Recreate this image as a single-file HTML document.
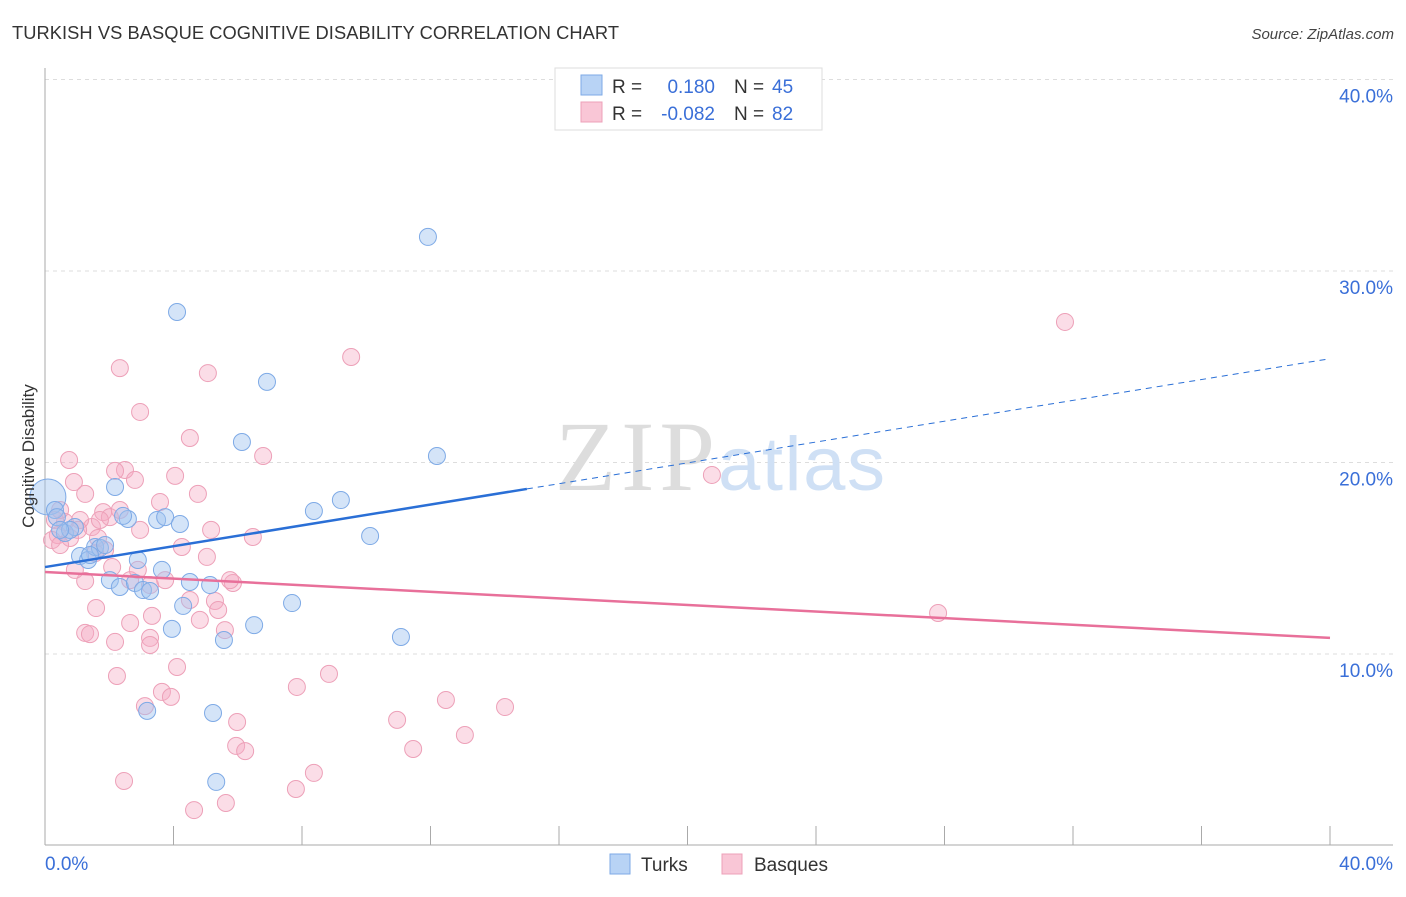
<!DOCTYPE html>
<html><head><meta charset="utf-8"><style>
body{margin:0;background:#fff;}
svg text{font-family:"Liberation Sans",sans-serif;}
</style></head><body>
<svg id="chart" width="1406" height="892" viewBox="0 0 1406 892" xmlns="http://www.w3.org/2000/svg">
<text x="12" y="39" font-size="18.3" fill="#333" textLength="607">TURKISH VS BASQUE COGNITIVE DISABILITY CORRELATION CHART</text>
<text x="1394" y="39" font-size="15" fill="#444" text-anchor="end" font-style="italic">Source: ZipAtlas.com</text>
<g id="grid"></g>
<g>
<text x="555" y="490" font-size="100" fill="#ddd" style="font-family:'Liberation Serif',serif" textLength="160">ZIP</text>
<text x="718" y="490" font-size="76" fill="#cfe0f5" textLength="167">atlas</text>
</g>
<g id="axes"></g>
<g id="pts"></g>
<g id="trends"></g>
<text transform="translate(34,456) rotate(-90)" font-size="17" fill="#333" text-anchor="middle">Cognitive Disability</text>
<g>
<rect x="555" y="68" width="267" height="62" fill="#fff" stroke="#ddd"/>
<rect x="581" y="75" width="21" height="20" fill="#b8d3f5" stroke="#7eaae6"/>
<rect x="581" y="102" width="21" height="20" fill="#f9c6d6" stroke="#eda0b8"/>
<text x="612" y="93" font-size="19" fill="#333">R =</text>
<text x="715" y="93" font-size="19" fill="#3a6fd8" text-anchor="end">0.180</text>
<text x="734" y="93" font-size="19" fill="#333">N =</text>
<text x="772" y="93" font-size="19" fill="#3a6fd8">45</text>
<text x="612" y="120" font-size="19" fill="#333">R =</text>
<text x="715" y="120" font-size="19" fill="#3a6fd8" text-anchor="end">-0.082</text>
<text x="734" y="120" font-size="19" fill="#333">N =</text>
<text x="772" y="120" font-size="19" fill="#3a6fd8">82</text>
</g>
<g>
<rect x="610" y="854" width="20" height="20" fill="#b8d3f5" stroke="#7eaae6"/>
<text x="641" y="871" font-size="19" fill="#333">Turks</text>
<rect x="722" y="854" width="20" height="20" fill="#f9c6d6" stroke="#eda0b8"/>
<text x="754" y="871" font-size="19" fill="#333">Basques</text>
</g>
</svg>
<script>
const yTicks=[10,20,30,40];
const yTickLabels=["10.0%","20.0%","30.0%","40.0%"];
const xTicks=[4,8,12,16,20,24,28,32,36,40];
const turksX=[11.92,4.11,6.91,6.13,12.20,2.18,9.21,8.37,10.12,0.09,0.31,0.37,0.62,0.93,1.09,1.34,1.56,1.71,2.02,2.33,2.58,2.43,2.89,2.80,3.05,3.27,3.49,3.74,4.20,3.64,4.51,5.14,4.30,3.95,5.57,6.51,7.69,11.08,3.18,5.23,5.33,0.78,1.40,0.47,1.87];
const turksY=[31.78,27.86,24.21,21.07,20.34,18.72,18.04,17.47,16.16,18.20,17.52,17.15,16.32,16.63,15.12,14.91,15.59,15.54,13.86,13.50,17.05,17.21,14.91,13.71,13.34,13.29,17.00,17.15,16.79,14.39,13.76,13.60,12.51,11.31,10.73,11.51,12.66,10.89,7.03,6.92,3.32,16.48,15.17,16.48,15.69];
const basquesX=[2.33,2.96,5.07,9.53,31.75,4.51,0.75,2.49,2.18,4.05,2.80,1.25,4.76,3.58,0.90,1.81,2.02,1.46,1.09,0.62,0.31,0.40,0.22,0.78,1.65,1.87,1.56,1.25,2.09,2.65,2.89,3.27,4.26,5.04,5.17,6.47,5.85,5.29,5.39,4.82,6.79,20.76,27.80,1.59,3.33,2.65,1.25,1.40,3.27,3.27,2.18,5.60,4.11,2.24,7.84,8.84,3.64,3.92,3.11,12.48,14.32,10.96,13.07,5.98,5.95,6.23,11.46,8.37,7.81,2.46,4.64,5.63,0.47,1.03,1.71,2.33,2.96,3.74,4.51,5.76,0.47,0.93];
const basquesY=[24.93,22.64,24.67,25.51,27.34,21.28,20.13,19.61,19.56,19.30,19.09,18.36,18.36,17.94,18.98,17.41,17.15,16.63,17.00,16.89,17.00,16.21,15.95,16.06,16.06,15.43,15.27,13.81,14.54,13.86,14.39,13.60,15.59,15.07,16.48,16.11,13.71,12.77,12.30,11.78,20.34,19.35,12.14,12.40,11.99,11.62,11.10,11.04,10.84,10.47,10.63,11.25,9.32,8.85,8.28,8.96,8.02,7.76,7.28,7.60,7.23,6.56,5.77,6.45,5.20,4.93,5.04,3.79,2.95,3.37,1.85,2.22,15.69,16.48,17.00,17.52,16.48,13.86,12.82,13.86,17.52,14.39];
const turksTrend=[14.54,0.272];   // intercept, slope
const basquesTrend=[14.28,-0.086];
const NS="http://www.w3.org/2000/svg";
const X=v=>45+v*32.125, Y=v=>845.5-v*19.15;
function mk(t,a,p){const e=document.createElementNS(NS,t);for(const k in a)e.setAttribute(k,a[k]);p.appendChild(e);return e;}
const grid=document.getElementById('grid'),axes=document.getElementById('axes'),pts=document.getElementById('pts'),tr=document.getElementById('trends');
yTicks.forEach((v,i)=>{
 const l=mk('line',{x1:45,x2:1393,y1:Y(v),y2:Y(v),stroke:'#ddd','stroke-dasharray':'4,4'},grid);
 
 
 const t=mk('text',{x:1393,y:Y(v)+23,'font-size':19,fill:'#3a6fd8','text-anchor':'end'},axes);
 t.textContent=yTickLabels[i];
 
 
});
mk('line',{x1:45,x2:45,y1:68,y2:845,stroke:'#aaa'},axes);
mk('line',{x1:45,x2:1393,y1:845,y2:845,stroke:'#aaa'},axes);
xTicks.forEach(v=>{const l=mk('line',{x1:X(v),x2:X(v),y1:826,y2:845,stroke:'#aaa'},axes);
 
 });
let t0=mk('text',{x:45,y:870,'font-size':19,fill:'#3a6fd8'},axes);t0.textContent='0.0%';


let t1=mk('text',{x:1393,y:870,'font-size':19,fill:'#3a6fd8','text-anchor':'end'},axes);t1.textContent='40.0%';


basquesX.forEach((x,i)=>{const c=mk('circle',{cx:X(x),cy:Y(basquesY[i]),r:8.5,fill:'rgba(246,170,195,0.4)',stroke:'#eda0b8','stroke-width':1},pts);
 
 });
turksX.forEach((x,i)=>{const c=mk('circle',{cx:X(x),cy:Y(turksY[i]),r:i==9?18:8.5,fill:'rgba(160,196,240,0.45)',stroke:'#7eaae6','stroke-width':1},pts);
 
 });
const tf=(p,x)=>p[0]+p[1]*x;
let a=mk('line',{x1:X(0),y1:Y(tf(turksTrend,0)),x2:X(15),y2:Y(tf(turksTrend,15)),stroke:'#2a6fd6','stroke-width':2.5},tr);


let b=mk('line',{x1:X(15),y1:Y(tf(turksTrend,15)),x2:X(40),y2:Y(tf(turksTrend,40)),stroke:'#2a6fd6','stroke-width':1,'stroke-dasharray':'6,5'},tr);


let c=mk('line',{x1:X(0),y1:Y(tf(basquesTrend,0)),x2:X(40),y2:Y(tf(basquesTrend,40)),stroke:'#e8709a','stroke-width':2.5},tr);


</script>
</body></html>
